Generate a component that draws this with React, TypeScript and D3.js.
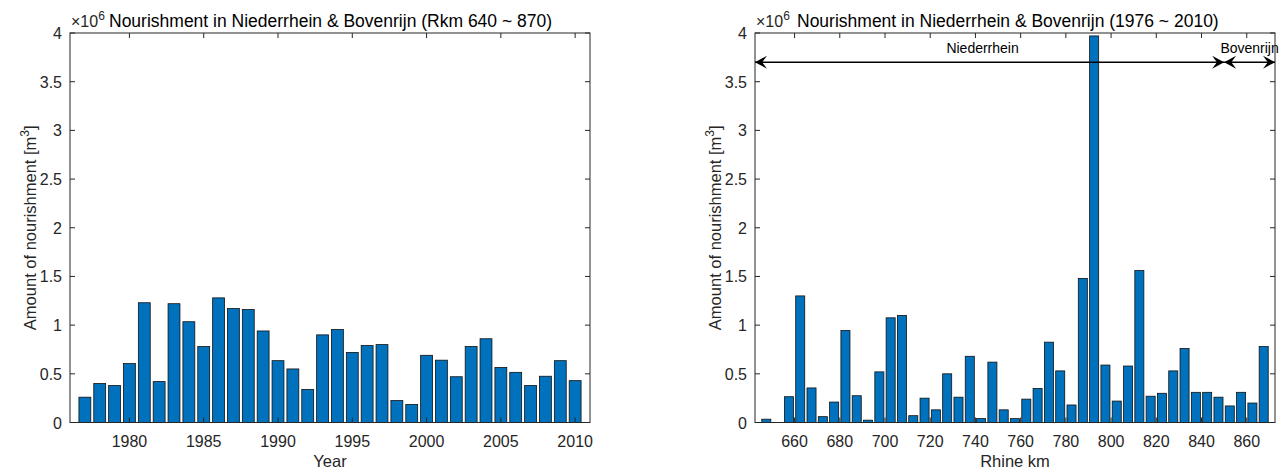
import React, { useEffect, useRef } from "react";
import * as d3 from "d3";

// nourishment per year (m3)
const years = [
	1977, 1978, 1979, 1980, 1981, 1982, 1983, 1984, 1985, 1986, 1987, 1988,
	1989, 1990, 1991, 1992, 1993, 1994, 1995, 1996, 1997, 1998, 1999, 2000,
	2001, 2002, 2003, 2004, 2005, 2006, 2007, 2008, 2009, 2010,
];
const yearValues = [
	0.26, 0.4, 0.38, 0.605, 1.23, 0.42, 1.22, 1.035, 0.78, 1.28, 1.17, 1.16,
	0.94, 0.635, 0.55, 0.34, 0.9, 0.955, 0.72, 0.79, 0.8, 0.225, 0.185, 0.69,
	0.64, 0.47, 0.78, 0.86, 0.565, 0.515, 0.38, 0.475, 0.635, 0.43,
].map((v) => v * 1e6);

// nourishment per 5 km bin (bin centres)
const rhineKm = [
	647.5, 652.5, 657.5, 662.5, 667.5, 672.5, 677.5, 682.5, 687.5, 692.5,
	697.5, 702.5, 707.5, 712.5, 717.5, 722.5, 727.5, 732.5, 737.5, 742.5,
	747.5, 752.5, 757.5, 762.5, 767.5, 772.5, 777.5, 782.5, 787.5, 792.5,
	797.5, 802.5, 807.5, 812.5, 817.5, 822.5, 827.5, 832.5, 837.5, 842.5,
	847.5, 852.5, 857.5, 862.5, 867.5,
];
const kmValues = [
	0.034, 0, 0.265, 1.3, 0.355, 0.06, 0.21, 0.945, 0.275, 0.024, 0.52, 1.075,
	1.1, 0.07, 0.25, 0.13, 0.5, 0.26, 0.68, 0.04, 0.62, 0.13, 0.04, 0.24,
	0.35, 0.825, 0.53, 0.18, 1.48, 3.97, 0.59, 0.22, 0.58, 1.56, 0.27, 0.3,
	0.53, 0.76, 0.31, 0.31, 0.26, 0.17, 0.31, 0.2, 0.78,
].map((v) => v * 1e6);

const yearTicks = [1980, 1985, 1990, 1995, 2000, 2005, 2010];
const kmTicks = [660, 680, 700, 720, 740, 760, 780, 800, 820, 840, 860];
const yTicks = [0, 0.5, 1, 1.5, 2, 2.5, 3, 3.5, 4];

const reaches = [
	{ name: "Niederrhein", from: 642.5, to: 850 },
	{ name: "Bovenrijn", from: 850, to: 872.5 },
];

const FONT = "'Liberation Sans', Arial, Helvetica, sans-serif";
const TXT = "#262626";
const BAR = "#0072BD";

const App: React.FC = () => {
	const svgRef = useRef<SVGSVGElement | null>(null);

	useEffect(() => {
		document.body.style.margin = "0";
		const svg = d3.select(svgRef.current);
		svg.selectAll("*").remove();

		const drawPanel = (
			x0: number,
			x1: number,
			domain: [number, number],
			xs: number[],
			vals: number[],
			binW: number,
			xTicks: number[],
			xLabel: string,
			title: string,
			titleX: number
		) => {
			const y0 = 33;
			const y1 = 422.5;
			const x = d3.scaleLinear().domain(domain).range([x0, x1]);
			const y = d3.scaleLinear().domain([0, 4e6]).range([y1, y0]);
			const g = svg.append("g").style("font-family", FONT);

			const bw = x(domain[0] + binW * 0.8) - x(domain[0]);
			g.selectAll(".bar")
				.data(xs.map((d, i) => ({ k: d, v: vals[i] })).filter((d) => d.v > 0))
				.enter()
				.append("rect")
				.attr("x", (d) => x(d.k) - bw / 2)
				.attr("y", (d) => y(d.v))
				.attr("width", bw)
				.attr("height", (d) => y1 - y(d.v))
				.attr("fill", BAR)
				.attr("stroke", "#111")
				.attr("stroke-width", 0.8);

			// box
			g.append("rect")
				.attr("x", x0)
				.attr("y", y0)
				.attr("width", x1 - x0)
				.attr("height", y1 - y0)
				.attr("fill", "none")
				.attr("stroke", TXT)
				.attr("stroke-width", 1);

			const tl = 5;
			xTicks.forEach((t) => {
				g.append("line")
					.attr("x1", x(t)).attr("x2", x(t))
					.attr("y1", y1).attr("y2", y1 - tl)
					.attr("stroke", TXT);
				g.append("line")
					.attr("x1", x(t)).attr("x2", x(t))
					.attr("y1", y0).attr("y2", y0 + tl)
					.attr("stroke", TXT);
				g.append("text")
					.attr("x", x(t))
					.attr("y", y1 + 24)
					.attr("text-anchor", "middle")
					.attr("font-size", 16)
					.attr("fill", TXT)
					.text(t);
			});
			yTicks.forEach((t) => {
				const yy = y(t * 1e6);
				g.append("line")
					.attr("x1", x0).attr("x2", x0 + tl)
					.attr("y1", yy).attr("y2", yy)
					.attr("stroke", TXT);
				g.append("line")
					.attr("x1", x1).attr("x2", x1 - tl)
					.attr("y1", yy).attr("y2", yy)
					.attr("stroke", TXT);
				g.append("text")
					.attr("x", x0 - 8)
					.attr("y", yy + 6)
					.attr("text-anchor", "end")
					.attr("font-size", 16)
					.attr("fill", TXT)
					.text(t);
			});

			// exponent
			const ex = g.append("text")
				.attr("x", x0 + 1)
				.attr("y", y0 - 6)
				.attr("font-size", 16)
				.attr("fill", TXT);
			ex.append("tspan").text("\u00d710");
			ex.append("tspan").attr("dy", -7).attr("font-size", 12).text("6");

			g.append("text")
				.attr("x", titleX)
				.attr("y", 27)
				.attr("font-size", 17.5)
				.attr("fill", "#000")
				.text(title);

			g.append("text")
				.attr("x", (x0 + x1) / 2)
				.attr("y", 467)
				.attr("text-anchor", "middle")
				.attr("font-size", 16.5)
				.attr("fill", TXT)
				.text(xLabel);

			const yl = g.append("text")
				.attr("transform", `translate(${x0 - 34},${(y0 + y1) / 2}) rotate(-90)`)
				.attr("text-anchor", "middle")
				.attr("font-size", 16.5)
				.attr("fill", TXT);
			yl.append("tspan").text("Amount of nourishment [m");
			yl.append("tspan").attr("dy", -7).attr("font-size", 12).text("3");
			yl.append("tspan").attr("dy", 7).text("]");

			return { g, x, y };
		};

		drawPanel(
			70, 590, [1976, 2011], years, yearValues, 1, yearTicks, "Year",
			"Nourishment in Niederrhein & Bovenrijn (Rkm 640 ~ 870)", 109
		);
		const right = drawPanel(
			755, 1275, [642.5, 872.5], rhineKm, kmValues, 5, kmTicks, "Rhine km",
			"Nourishment in Niederrhein & Bovenrijn (1976 ~ 2010)", 797
		);

		// reach arrows
		const { g, x, y } = right;
		const ay = y(3.7e6);
		const head = (tx: number, dir: number) => {
			const L = 12;
			const W = 6.5;
			return `M${tx},${ay} L${tx - dir * L},${ay - W} L${tx - dir * L * 0.6},${ay} L${tx - dir * L},${ay + W} Z`;
		};
		reaches.forEach((r) => {
			const a = x(r.from);
			const b = x(r.to);
			g.append("line")
				.attr("x1", a).attr("x2", b)
				.attr("y1", ay).attr("y2", ay)
				.attr("stroke", "#000")
				.attr("stroke-width", 1.5);
			g.append("path").attr("d", head(a, -1)).attr("fill", "#000");
			g.append("path").attr("d", head(b, 1)).attr("fill", "#000");
			g.append("text")
				.attr("x", (a + b) / 2 - (r.name === "Niederrhein" ? 7 : 0))
				.attr("y", ay - 9)
				.attr("text-anchor", "middle")
				.attr("font-size", 14)
				.attr("fill", "#000")
				.text(r.name);
		});
	}, []);

	return <svg ref={svgRef} width={1284} height={472} style={{ display: "block", background: "#fff" }}></svg>;
};

export default App;
